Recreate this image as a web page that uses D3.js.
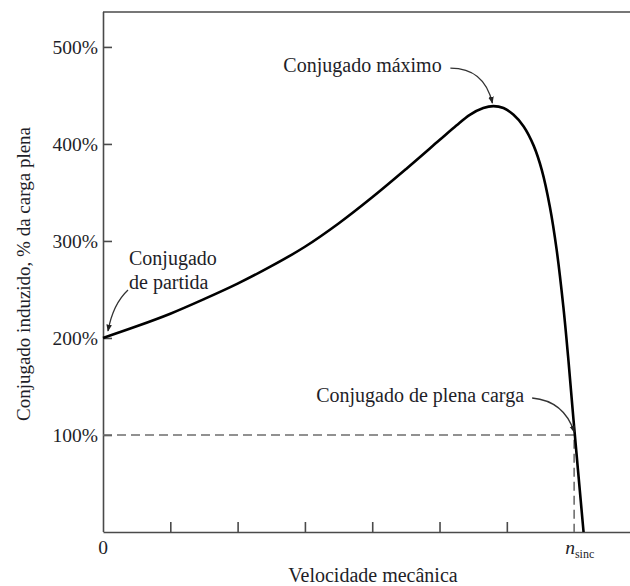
<!DOCTYPE html>
<html>
<head>
<meta charset="utf-8">
<script src="https://cdn.jsdelivr.net/npm/d3@7"></script>
<style>
  html, body { margin: 0; padding: 0; background: #fff; }
  svg text { font-family: "Liberation Serif", "DejaVu Serif", serif; fill: #1e1e28; }
  .axis path, .axis line { stroke: #4a4a4a; stroke-width: 1.6; }
</style>
</head>
<body>
<div id="chart"></div>
<script>
// velocidade (em divisões do eixo; n_sinc = 7) e conjugado (% da plena carga)
const speed  = [0, 0.5, 1.0, 1.5, 2.0, 2.5, 3.0, 3.5, 4.0, 4.5, 5.0, 5.25, 5.45, 5.65, 5.8, 5.95, 6.1, 6.25, 6.4, 6.52, 6.64, 6.74, 6.84, 6.91, 6.99, 7.14];
const torque = [200, 212, 225, 240, 256, 274, 294, 318, 345, 374, 404, 419, 430, 437, 439, 437, 430, 418, 398, 373, 335, 291, 232, 181, 116, 0];

const yTicks = [100, 200, 300, 400, 500];
const xTicks = [1, 2, 3, 4, 5, 6];
const nSync = 7;
const fullLoad = { s: 7.0, t: 100 };
const peak = { s: 5.80, t: 439 };
const start = { s: 0, t: 200 };

const W = 630, H = 586;
const x = d3.scaleLinear().domain([0, 7.83]).range([103, 630]);
const y = d3.scaleLinear().domain([0, 536]).range([532, 12]);

const svg = d3.select("#chart").append("svg")
  .attr("width", W).attr("height", H);

/* ===== Axes ===== */
svg.append("g")
  .attr("class", "axis")
  .attr("transform", `translate(0,${y(0)})`)
  .call(d3.axisBottom(x).tickValues(xTicks).tickSize(-10).tickSizeOuter(0).tickFormat(""));

const yAxis = svg.append("g")
  .attr("class", "axis")
  .attr("transform", `translate(${x(0)},0)`)
  .call(d3.axisLeft(y).tickValues(yTicks).tickSize(-9).tickSizeOuter(0).tickPadding(5)
    .tickFormat(d => d + "%"));
yAxis.selectAll("text")
  .style("font-size", "19.5px")
  .attr("fill", "#1e1e28");
yAxis.select(".domain").attr("d", `M0.5,${y(0)}V${y(536)}`);

// linha superior da moldura
svg.append("line")
  .attr("x1", x(0)).attr("x2", W)
  .attr("y1", y(536)).attr("y2", y(536))
  .attr("stroke", "#4a4a4a").attr("stroke-width", 1.6);

/* ===== Dashed full-load lines ===== */
svg.append("path")
  .attr("d", `M${x(0)},${y(fullLoad.t)}H${x(nSync)}V${y(0)}`)
  .attr("fill", "none")
  .attr("stroke", "#6e6e6e")
  .attr("stroke-width", 1.6)
  .attr("stroke-dasharray", "9,5");

/* ===== Curve ===== */
const pts = speed.map((s, i) => [s, torque[i]]);
svg.append("path")
  .datum(pts)
  .attr("fill", "none")
  .attr("stroke", "#000")
  .attr("stroke-width", 2.6)
  .attr("stroke-linejoin", "round")
  .attr("d", d3.line().x(d => x(d[0])).y(d => y(d[1])).curve(d3.curveCatmullRom.alpha(0.5)));

/* ===== Labels ===== */
svg.append("text")
  .attr("x", x(0)).attr("y", 554)
  .attr("text-anchor", "middle")
  .style("font-size", "19.5px")
  .text("0");

const ns = svg.append("text")
  .attr("x", x(nSync) - 9).attr("y", 554)
  .style("font-size", "19.5px");
ns.append("tspan").style("font-style", "italic").text("n");
ns.append("tspan").attr("dy", 4).style("font-size", "12px").text("sinc");

svg.append("text")
  .attr("x", 373).attr("y", 582)
  .attr("text-anchor", "middle")
  .style("font-size", "20px")
  .text("Velocidade mecânica");

svg.append("text")
  .attr("transform", `translate(30,274) rotate(-90)`)
  .attr("text-anchor", "middle")
  .style("font-size", "19px")
  .text("Conjugado induzido, % da carga plena");

/* ===== Annotations ===== */
svg.append("defs").append("marker")
  .attr("id", "arr")
  .attr("viewBox", "0 0 10 10")
  .attr("refX", 9).attr("refY", 5)
  .attr("markerWidth", 7).attr("markerHeight", 7)
  .attr("markerUnits", "userSpaceOnUse")
  .attr("orient", "auto")
  .append("path")
  .attr("d", "M0,1L10,5L0,9Z")
  .attr("fill", "#222");

function arrow(x0, y0, cx, cy, x1, y1) {
  svg.append("path")
    .attr("d", `M${x0},${y0}Q${cx},${cy} ${x1},${y1}`)
    .attr("fill", "none")
    .attr("stroke", "#333")
    .attr("stroke-width", 1.3)
    .attr("marker-end", "url(#arr)");
}

// conjugado máximo
const px = x(peak.s), py = y(peak.t);
svg.append("text").attr("x", px - 210).attr("y", py - 34)
  .style("font-size", "20px").text("Conjugado máximo");
arrow(px - 43, py - 38, px - 9, py - 38, px - 1, py - 3);

// conjugado de partida
const sx = x(start.s), sy = y(start.t);
svg.append("text").attr("x", sx + 26).attr("y", sy - 73)
  .style("font-size", "20px").text("Conjugado");
svg.append("text").attr("x", sx + 26).attr("y", sy - 49)
  .style("font-size", "20px").text("de partida");
arrow(sx + 25, sy - 48, sx + 10, sy - 34, sx + 5, sy - 7);

// conjugado de plena carga
const fx = x(fullLoad.s), fy = y(fullLoad.t);
svg.append("text").attr("x", fx - 258).attr("y", fy - 33)
  .style("font-size", "20px").text("Conjugado de plena carga");
arrow(fx - 42, fy - 37, fx - 10, fy - 34, fx, fy - 3);
</script>
</body>
</html>
